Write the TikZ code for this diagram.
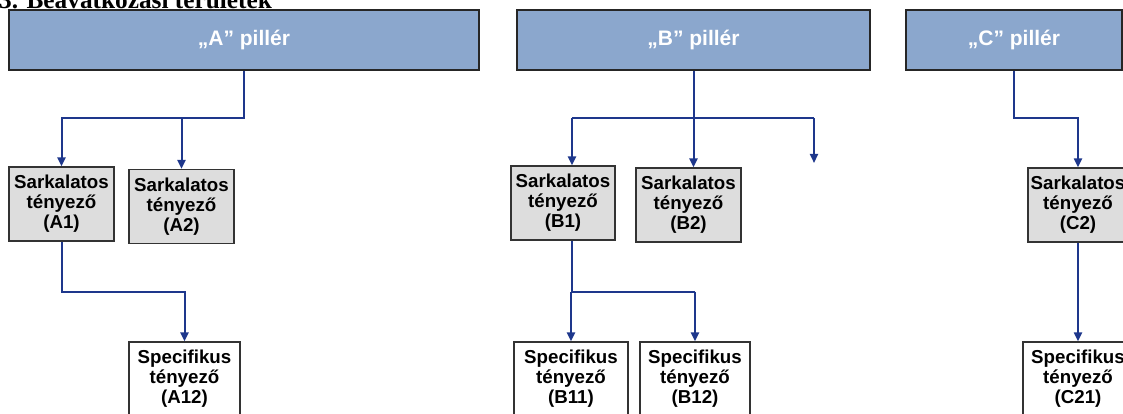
\documentclass[tikz,border=0pt]{standalone}
\usepackage{fontspec}
\setmainfont{Liberation Sans}
\newfontfamily\serifb{Liberation Serif}
\usetikzlibrary{arrows.meta}
\definecolor{banner}{RGB}{139,167,205}
\definecolor{boxgray}{RGB}{221,221,221}
\definecolor{arrblue}{RGB}{30,55,140}
\begin{document}
\begin{tikzpicture}[x=1pt,y=-1pt,
  pillar/.style={draw=black!85, line width=1.5pt, fill=banner, minimum height=60pt, inner sep=0pt, font=\bfseries\fontsize{21}{24}\selectfont, text=white},
  sarkbox/.style={draw=black!80, line width=1.2pt, fill=boxgray, minimum height=74pt, inner sep=0pt, align=center, font=\bfseries\fontsize{18.7}{20}\selectfont},
  specbox/.style={sarkbox, fill=white},
  arr/.style={draw=arrblue, line width=2pt, -{Triangle[length=9pt,width=8pt]}},
  ln/.style={draw=arrblue, line width=2pt}]
\clip (0,0) rectangle (1123,414);
\useasboundingbox (0,0) rectangle (1123,414);
% title (cut off at the top)
\node[anchor=base west, inner sep=0pt, font=\serifb\bfseries\fontsize{25.3}{30}\selectfont] (title) at (-1,8.5) {3. Beavatkozási területek};
% pillars
\node[pillar, minimum width=470pt] (pA) at (244,40) {„A” pillér};
\node[pillar, minimum width=353pt] (pB) at (693.5,40) {„B” pillér};
\node[pillar, minimum width=216pt] (pC) at (1014,40) {„C” pillér};
% key factor boxes
\node[sarkbox, minimum width=105pt] (A1) at (61.5,204) {Sarkalatos\\tényező\\(A1)};
\node[sarkbox, minimum width=105pt] (A2) at (181.5,206.5) {Sarkalatos\\tényező\\(A2)};
\node[sarkbox, minimum width=104pt] (B1) at (563,203) {Sarkalatos\\tényező\\(B1)};
\node[sarkbox, minimum width=105pt] (B2) at (688.5,205) {Sarkalatos\\tényező\\(B2)};
\node[sarkbox, minimum width=100pt] (C2) at (1078,205) {Sarkalatos\\tényező\\(C2)};
% specific factor boxes
\node[specbox, minimum width=111pt] (A12) at (184.5,379) {Specifikus\\tényező\\(A12)};
\node[specbox, minimum width=114pt] (B11) at (571,379) {Specifikus\\tényező\\(B11)};
\node[specbox, minimum width=110pt] (B12) at (695,379) {Specifikus\\tényező\\(B12)};
\node[specbox, minimum width=110pt] (C21) at (1078,379) {Specifikus\\tényező\\(C21)};
% helper coordinates
\coordinate (h1) at (0,118);
\coordinate (h2) at (0,291.5);
\coordinate (Bx) at (814,163);
% A connectors
\draw[arr] (pA.south) |- (h1 -| A1.north) -- (A1.north);
\draw[arr] (h1 -| A2.north) -- (A2.north);
\draw[arr] (A1.south) |- (h2 -| A12.north) -- (A12.north);
% B connectors
\draw[ln] ([xshift=9pt]B1.north |- h1) -- (Bx |- h1);
\draw[arr] (pB.south) -- (pB.south |- B2.north);
\draw[arr] ([xshift=9pt]B1.north |- h1) -- ([xshift=9pt]B1.north);
\draw[arr] (Bx |- h1) -- (Bx);
\draw[ln] ([xshift=9pt]B1.south) -- ([xshift=9pt]B1.south |- h2);
\draw[ln] (h2 -| B11.north) -- (h2 -| B12.north);
\draw[arr] (h2 -| B11.north) -- (B11.north);
\draw[arr] (h2 -| B12.north) -- (B12.north);
% C connectors
\draw[arr] (pC.south) |- (h1 -| C2.north) -- (C2.north);
\draw[arr] (C2.south) -- (C21.north);
\end{tikzpicture}
\end{document}
